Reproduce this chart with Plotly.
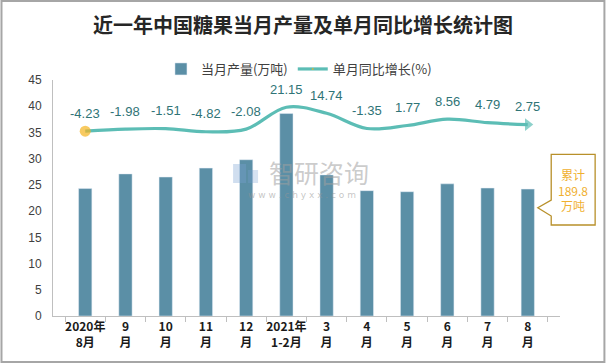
import plotly.graph_objects as go

# ---------------- data ----------------
categories = ["2020年<br>8月", "9<br>月", "10<br>月", "11<br>月", "12<br>月", "2021年<br>1-2月",
              "3<br>月", "4<br>月", "5<br>月", "6<br>月", "7<br>月", "8<br>月"]
output_wt = [24.3, 27.1, 26.5, 28.2, 29.8, 38.6, 26.9, 23.9, 23.7, 25.2, 24.4, 24.2]
growth_pct = [-4.23, -1.98, -1.51, -4.82, -2.08, 21.15, 14.74, -1.35, 1.77, 8.56, 4.79, 2.75]
growth_labels = ["-4.23", "-1.98", "-1.51", "-4.82", "-2.08", "21.15", "14.74", "-1.35", "1.77", "8.56", "4.79", "2.75"]
y_ticks = [0, 5, 10, 15, 20, 25, 30, 35, 40, 45]

title_text = "近一年中国糖果当月产量及单月同比增长统计图"
bar_name = "当月产量(万吨)"
line_name = "单月同比增长(%)"
callout_text = "累计<br>189.8<br>万吨"

# ---------------- layout geometry (pixels) ----------------
W, H = 606, 363
PL, PR, PT, PB = 52.6, 560.5, 80, 316  # plot area


def px(x):
    return (x - PL) / (PR - PL)


def py(y):
    return (PB - y) / (PB - PT)


BAR_C = "#5B8FA6"
LINE_C = "#5CBDB5"
DOT_C = "#F5B41E"
LBL_C = "#2F7476"

fig = go.Figure()
fig.add_trace(go.Bar(
    x=categories, y=output_wt, name=bar_name, marker_color=BAR_C,
    yaxis="y", hoverinfo="skip",
))

n = len(categories)
symbols = ["circle"] + ["circle"] * (n - 2) + ["triangle-right"]
sizes = [11] + [0] * (n - 2) + [11]
colors = [DOT_C] + [LINE_C] * (n - 1)
fig.add_trace(go.Scatter(
    x=categories, y=growth_pct, name=line_name, yaxis="y2", mode="lines+markers",
    line=dict(color=LINE_C, width=3.2, shape="spline", smoothing=1.0),
    marker=dict(symbol=symbols, size=sizes, color=colors, line=dict(width=0)),
    hoverinfo="skip",
))

annotations = []
for c, v, t in zip(categories, growth_pct, growth_labels):
    annotations.append(dict(
        x=c, y=v, xref="x", yref="y2", text=t, showarrow=False, yshift=18,
        xanchor="center", yanchor="middle",
        font=dict(family="Liberation Sans, Arial", size=13, color=LBL_C),
    ))

# callout text
annotations.append(dict(
    x=px(573.7), y=py(189.5), xref="paper", yref="paper", text=callout_text,
    showarrow=False, align="center", xanchor="center", yanchor="middle",
    font=dict(family="Noto Sans CJK SC", size=12, color="#F0B030"),
))
# watermark
annotations.append(dict(
    x=px(319), y=py(172), xref="paper", yref="paper", text="智研咨询",
    showarrow=False, xanchor="center", yanchor="middle",
    font=dict(family="Noto Sans CJK SC", size=25, color="rgba(160,160,160,0.55)"),
))
annotations.append(dict(
    x=px(302), y=py(195), xref="paper", yref="paper", text="w w w . c h y x x . c o m",
    showarrow=False, xanchor="center", yanchor="middle",
    font=dict(family="DejaVu Sans", size=9, color="rgba(150,150,150,0.55)"),
))

shapes = [
    # outer border
    dict(type="rect", xref="paper", yref="paper", x0=px(1), x1=px(W - 1), y0=py(H - 1), y1=py(1),
         line=dict(color="#A6A6A6", width=2), fillcolor="rgba(0,0,0,0)", layer="below"),
    # watermark logo blocks
    dict(type="rect", xref="paper", yref="paper", x0=px(233), x1=px(246), y0=py(183), y1=py(164),
         line=dict(width=0), fillcolor="rgba(120,160,210,0.35)"),
    dict(type="rect", xref="paper", yref="paper", x0=px(248), x1=px(258), y0=py(183), y1=py(170),
         line=dict(width=0), fillcolor="rgba(120,160,210,0.3)"),
    # callout
    dict(type="path", xref="paper", yref="paper",
         path=("M {a},{b} L {c},{b} L {c},{d} L {a},{d} L {a},{e} L {f},{g} L {a},{h} Z").format(
             a=px(551.7), b=py(154.3), c=px(595.7), d=py(225), e=py(216), f=px(538.3), g=py(207.7),
             h=py(200)),
         line=dict(color="#B8902A", width=1.3), fillcolor="white"),
]

fig.update_layout(
    width=W, height=H,
    margin=dict(l=PL, r=W - PR, t=PT, b=H - PB, autoexpand=False),
    paper_bgcolor="white", plot_bgcolor="white",
    title=dict(text=title_text, x=0.5, xanchor="center", y=1 - 26 / H, yanchor="middle",
               font=dict(family="Noto Sans CJK SC", size=20, color="#262626", weight="bold")),
    legend=dict(orientation="h", x=px(299), xanchor="center", y=py(69), yanchor="middle",
                font=dict(family="Noto Sans CJK SC", size=13, color="#404040"),
                bgcolor="rgba(0,0,0,0)", itemwidth=30),
    bargap=0.67,
    xaxis=dict(type="category", showline=True, linecolor="#BFBFBF", linewidth=1,
               ticks="outside", tickson="boundaries", ticklen=5, tickcolor="#BFBFBF",
               tickangle=0, automargin=False,
               tickfont=dict(family="Noto Sans CJK SC", size=12, color="#1A1A1A", weight="bold"),
               showgrid=False, zeroline=False, fixedrange=True),
    yaxis=dict(range=[0, 45], tickvals=y_ticks, showline=True, linecolor="#BFBFBF", linewidth=1,
               ticks="", showgrid=False, zeroline=False, ticklabelstandoff=8, automargin=False,
               tickfont=dict(family="Liberation Sans, Arial", size=12, color="#404040")),
    yaxis2=dict(range=[-200, 50], overlaying="y", side="right", visible=False, showgrid=False,
                automargin=False),
    annotations=annotations,
    shapes=shapes,
    showlegend=True,
)

fig.write_html("out.html", config={"displayModeBar": False},
               post_script="document.body.style.margin='0';document.body.style.overflow='hidden';")
